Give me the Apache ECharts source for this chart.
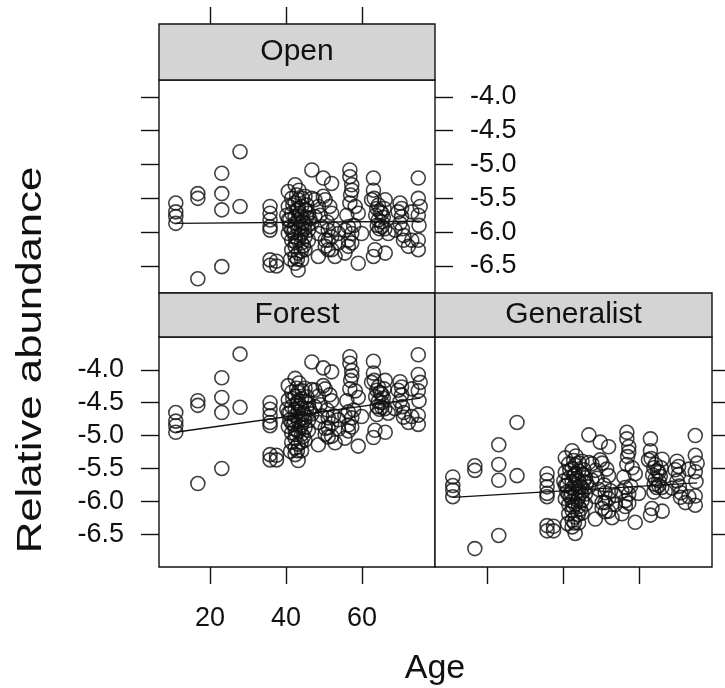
<!DOCTYPE html>
<html>
<head>
<meta charset="utf-8">
<script src="https://cdn.jsdelivr.net/npm/echarts@6/dist/echarts.min.js"></script>
<style>
html,body{margin:0;padding:0;background:#fff;}
#chart{width:725px;height:688px;}
</style>
</head>
<body>
<div id="chart"></div>
<script>
// Panel names
const panels = ['Open', 'Forest', 'Generalist'];
// Site ages (shared x values)
const ages = [
 11.0,11.0,11.0,11.0,16.8,16.8,16.8,23.1,23.1,23.1,23.1,27.9,27.9,
 35.8,35.8,35.8,35.8,35.8,35.8,35.8,37.5,37.5,
 40.6,40.6,40.6,40.6,41.0,41.5,41.5,41.5,41.5,41.5,
 42.4,42.4,42.4,42.4,42.4,42.4,42.4,42.4,
 43.2,43.2,43.2,43.2,43.2,43.2,43.2,
 44.1,44.1,44.1,44.1,44.1,44.1,
 45.0,45.0,45.0,45.0,45.0,45.9,45.9,45.9,46.8,46.8,46.8,47.6,47.6,
 48.5,48.5,48.5,49.4,49.8,49.8,50.3,50.3,50.3,51.1,51.1,51.1,
 52.0,52.0,52.0,52.0,52.9,53.8,53.8,55.5,55.5,56.4,56.4,56.4,
 56.8,56.8,56.8,57.3,57.3,57.3,57.3,58.2,59.0,59.0,59.9,
 62.5,63.0,63.0,63.4,63.0,63.9,64.3,65.2,65.2,63.9,66.1,66.1,66.9,64.3,65.2,
 68.7,70.0,70.4,70.4,70.0,70.9,72.2,73.1,73.1,
 74.8,74.8,75.3,74.8,74.8,74.8,
 41.0,43.6,44.5,42.0,44.6,43.0,45.5,42.8,64.8,65.6,64.0,66.0,
 40.2,41.8,42.2,43.8,44.8,46.2,42.6,44.0,41.2,43.4,45.4,
 49.0,50.8,52.5,51.5,56.0,57.8,57.0,63.6,64.6,65.8,63.2,
 70.6,71.0,69.5,75.0,42.9,44.3
];
// Relative abundance, Open panel
const openValues = [
 -5.57,-5.70,-5.77,-5.87,-5.43,-5.50,-6.69,-5.13,-5.43,-5.67,-6.51,-4.81,-5.62,
 -5.62,-5.72,-5.82,-5.92,-5.97,-6.41,-6.49,-6.43,-6.50,
 -5.40,-5.62,-5.82,-6.02,-5.92,-5.50,-5.72,-5.97,-6.12,-6.26,
 -5.30,-5.57,-5.77,-5.87,-6.07,-6.21,-6.36,-6.46,
 -5.52,-5.65,-5.82,-5.95,-6.12,-6.31,-6.56,
 -5.62,-5.77,-5.92,-6.02,-6.16,-6.41,
 -5.47,-5.67,-5.87,-6.07,-6.26,-5.72,-5.97,-6.12,-5.08,-5.50,-5.87,-5.52,-5.77,
 -5.62,-6.02,-6.36,-5.92,-5.20,-5.47,-5.52,-6.12,-6.21,-5.97,-6.12,-6.26,
 -5.28,-5.72,-6.07,-6.26,-6.36,-6.02,-6.16,-6.31,-5.97,-5.92,-6.12,-6.21,
 -5.08,-5.18,-5.57,-5.30,-5.38,-6.02,-6.16,-5.62,-5.72,-6.46,-6.02,
 -5.52,-5.20,-5.38,-6.26,-6.36,-5.65,-5.82,-5.72,-5.92,-6.02,-5.52,-6.31,-6.02,-5.60,-5.85,
 -5.97,-5.57,-5.65,-5.77,-5.87,-6.12,-6.21,-6.12,-5.70,
 -5.20,-5.50,-5.62,-5.75,-6.12,-6.26,
 -5.82,-5.72,-5.85,-6.00,-6.20,-6.40,-5.60,-5.45,-5.70,-5.78,-5.90,-5.95,
 -5.75,-5.60,-5.95,-6.05,-5.95,-5.80,-6.15,-6.28,-6.40,-5.38,-5.78,
 -5.75,-5.85,-5.95,-5.62,-5.75,-5.90,-5.45,-5.75,-5.95,-5.65,-5.50,
 -5.95,-6.05,-5.70,-5.90,-5.68,-5.50
];
// Relative abundance, Forest panel
const forestValues = [
 -4.65,-4.78,-4.85,-4.95,-4.47,-4.54,-5.73,-4.12,-4.42,-4.65,-5.50,-3.76,-4.57,
 -4.50,-4.60,-4.70,-4.80,-4.85,-5.29,-5.37,-5.30,-5.37,
 -4.24,-4.46,-4.66,-4.86,-4.76,-4.34,-4.56,-4.81,-4.96,-5.10,
 -4.13,-4.40,-4.60,-4.70,-4.90,-5.04,-5.19,-5.29,
 -4.34,-4.47,-4.64,-4.77,-4.94,-5.13,-5.38,
 -4.44,-4.59,-4.74,-4.84,-4.98,-5.23,
 -4.28,-4.48,-4.68,-4.88,-5.07,-4.52,-4.77,-4.92,-3.88,-4.30,-4.67,-4.31,-4.56,
 -4.40,-4.80,-5.14,-4.70,-3.97,-4.24,-4.29,-4.89,-4.98,-4.73,-4.88,-5.02,
 -4.03,-4.47,-4.82,-5.01,-5.11,-4.76,-4.90,-5.04,-4.70,-4.64,-4.84,-4.93,
 -3.80,-3.90,-4.29,-4.01,-4.09,-4.73,-4.87,-4.32,-4.42,-5.16,-4.71,
 -4.19,-3.87,-4.05,-4.92,-5.03,-4.31,-4.48,-4.37,-4.57,-4.68,-4.16,-4.95,-4.66,-4.26,-4.50,
 -4.59,-4.18,-4.26,-4.38,-4.48,-4.72,-4.80,-4.71,-4.29,
 -3.77,-4.07,-4.19,-4.32,-4.69,-4.83,
 -4.66,-4.54,-4.66,-4.83,-5.01,-5.23,-4.41,-4.28,-4.35,-4.43,-4.56,-4.59,
 -4.60,-4.44,-4.78,-4.87,-4.76,-4.60,-4.98,-5.10,-5.24,-4.20,-4.59,
 -4.53,-4.61,-4.70,-4.38,-4.47,-4.61,-4.16,-4.41,-4.60,-4.29,-4.16,
 -4.56,-4.65,-4.31,-4.47,-4.51,-4.32
];
// Relative abundance, Generalist panel
const generalistValues = [
 -5.63,-5.76,-5.83,-5.93,-5.46,-5.53,-6.72,-5.14,-5.44,-5.68,-6.52,-4.80,-5.61,
 -5.58,-5.68,-5.78,-5.88,-5.93,-6.37,-6.45,-6.38,-6.45,
 -5.34,-5.56,-5.76,-5.96,-5.86,-5.43,-5.65,-5.90,-6.05,-6.19,
 -5.23,-5.50,-5.70,-5.80,-6.00,-6.14,-6.29,-6.39,
 -5.45,-5.58,-5.75,-5.88,-6.05,-6.24,-6.49,
 -5.54,-5.69,-5.84,-5.94,-6.08,-6.33,
 -5.39,-5.59,-5.79,-5.99,-6.18,-5.64,-5.89,-6.04,-4.99,-5.41,-5.78,-5.43,-5.68,
 -5.53,-5.93,-6.27,-5.82,-5.10,-5.37,-5.42,-6.02,-6.11,-5.87,-6.02,-6.16,
 -5.17,-5.61,-5.96,-6.15,-6.25,-5.91,-6.05,-6.19,-5.85,-5.79,-5.99,-6.08,
 -4.95,-5.05,-5.44,-5.17,-5.25,-5.89,-6.03,-5.49,-5.58,-6.32,-5.88,
 -5.37,-5.05,-5.23,-6.11,-6.21,-5.49,-5.66,-5.56,-5.76,-5.86,-5.36,-6.15,-5.85,-5.44,-5.69,
 -5.80,-5.39,-5.47,-5.59,-5.69,-5.94,-6.02,-5.93,-5.51,
 -5.00,-5.30,-5.42,-5.55,-5.92,-6.06,
 -5.76,-5.65,-5.77,-5.93,-6.12,-6.33,-5.52,-5.38,-5.54,-5.62,-5.74,-5.79,
 -5.69,-5.53,-5.88,-5.98,-5.87,-5.72,-6.08,-6.20,-6.34,-5.31,-5.70,
 -5.65,-5.75,-5.84,-5.51,-5.63,-5.77,-5.32,-5.60,-5.79,-5.49,-5.35,
 -5.77,-5.87,-5.52,-5.70,-5.61,-5.42
];
// Fitted regression lines [age, value] at both ends of the age range
const openFit = [[10.9, -5.87], [75.3, -5.84]];
const forestFit = [[10.9, -4.95], [75.3, -4.43]];
const generalistFit = [[10.9, -5.94], [75.3, -5.72]];
// Tick values
const xTicks = [20, 40, 60];
const yTicks = [-6.5, -6.0, -5.5, -5.0, -4.5, -4.0];

const FONT = 'Liberation Sans, Arial, sans-serif';
const INK = '#111';
const pts = vals => ages.map((a, i) => [a, vals[i]]);

function xAx(grid, pos, labels, min, offset) {
  return {
    type: 'value', gridIndex: grid, position: pos, offset: offset || 0, min: min, max: 79.2,
    axisLine: {show: false}, splitLine: {show: false},
    axisTick: {show: true, inside: false, length: 17, customValues: xTicks, lineStyle: {color: INK, width: 1.4}},
    axisLabel: {show: labels, customValues: xTicks, margin: 38, fontSize: 27, fontFamily: FONT, color: INK}
  };
}
function yAx(grid, pos, labels, min, max) {
  return {
    type: 'value', gridIndex: grid, position: pos, min: min, max: max,
    axisLine: {show: false}, splitLine: {show: false},
    axisTick: {show: true, inside: false, length: 18, customValues: yTicks, lineStyle: {color: INK, width: 1.4}},
    axisLabel: {show: labels, customValues: yTicks, margin: 35, fontSize: 27, fontFamily: FONT, color: INK,
      formatter: v => Number(v).toFixed(1)}
  };
}
const scatter = (xi, yi, vals) => ({
  type: 'scatter', xAxisIndex: xi, yAxisIndex: yi, data: pts(vals),
  symbol: 'circle', symbolSize: 14,
  itemStyle: {color: 'rgba(0,0,0,0)', borderColor: INK, borderWidth: 1.6},
  emphasis: {disabled: true}, z: 3
});
const fitLine = (xi, yi, d) => ({
  type: 'line', xAxisIndex: xi, yAxisIndex: yi, data: d, symbol: 'none',
  lineStyle: {color: INK, width: 1.4}, z: 4, silent: true
});

const gridStyle = {show: true, borderColor: INK, borderWidth: 1.4, backgroundColor: '#fff'};
const stripStyle = {fill: '#d4d4d4', stroke: INK, lineWidth: 1.4};
const stripText = (t, x, y) => ({type: 'text', x: x, y: y, z: 10,
  style: {text: t, font: '30px ' + FONT, fill: INK, textAlign: 'center', textVerticalAlign: 'middle'}});

const chart = echarts.init(document.getElementById('chart'), null, {renderer: 'canvas'});
chart.setOption({
  animation: false,
  backgroundColor: '#fff',
  grid: [
    Object.assign({left: 159, top: 80, width: 276, height: 213}, gridStyle),
    Object.assign({left: 159, top: 337, width: 276, height: 230}, gridStyle),
    Object.assign({left: 435, top: 337, width: 277, height: 230}, gridStyle)
  ],
  xAxis: [
    xAx(0, 'top', false, 6.58, 56),
    xAx(1, 'bottom', true, 6.58),
    xAx(2, 'bottom', false, 6.32)
  ],
  yAxis: [
    yAx(0, 'left', false, -6.9, -3.75),
    yAx(0, 'right', true, -6.9, -3.75),
    yAx(1, 'left', true, -7.0, -3.5),
    yAx(2, 'right', false, -7.0, -3.5)
  ],
  series: [
    scatter(0, 1, openValues), fitLine(0, 1, openFit),
    scatter(1, 2, forestValues), fitLine(1, 2, forestFit),
    scatter(2, 3, generalistValues), fitLine(2, 3, generalistFit)
  ],
  graphic: [
    {type: 'rect', shape: {x: 159, y: 24, width: 276, height: 56}, style: stripStyle, z: 9},
    {type: 'rect', shape: {x: 159, y: 293, width: 276, height: 44}, style: stripStyle, z: 9},
    {type: 'rect', shape: {x: 435, y: 293, width: 277, height: 44}, style: stripStyle, z: 9},
    stripText(panels[0], 297, 52),
    stripText(panels[1], 297, 315),
    stripText(panels[2], 573.5, 315),
    {type: 'text', x: 435, y: 669, z: 10,
      style: {text: 'Age', font: '34px ' + FONT, fill: INK, textAlign: 'center', textVerticalAlign: 'middle'}},
    {type: 'text', x: 31, y: 360, rotation: Math.PI / 2, scaleX: 1.25, z: 10,
      style: {text: 'Relative abundance', font: '35px ' + FONT, fill: INK, textAlign: 'center', textVerticalAlign: 'middle'}}
  ]
});
</script>
</body>
</html>
